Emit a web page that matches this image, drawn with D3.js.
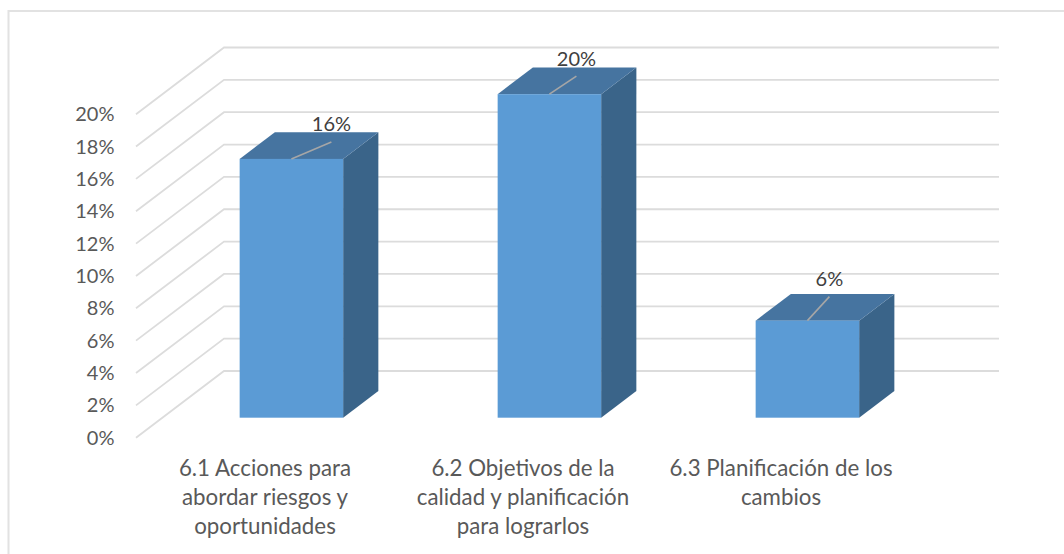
<!DOCTYPE html>
<html><head><meta charset="utf-8">
<script src="https://cdn.jsdelivr.net/npm/d3@7/dist/d3.min.js"></script>
<style>html,body{margin:0;background:#fff}svg{display:block}text{font-family:Lato,"Open Sans",sans-serif}</style>
</head><body><svg id="c" width="1064" height="554"></svg>
<script>
const categories=[["6.1 Acciones para","abordar riesgos y","oportunidades"],["6.2 Objetivos de la","calidad y planificación","para lograrlos"],["6.3 Planificación de los","cambios"]];
const values=[16,20,6];
const valueLabels=["16%","20%","6%"];
const ticks=[0,2,4,6,8,10,12,14,16,18,20];

const svg=d3.select("#c");
svg.append("path").attr("d","M8.5,554V11H1064").attr("fill","none").attr("stroke","#e2e2e2").attr("stroke-width",2);
const W=258*3, wallX=136, frontY=437.7, dx=88, dy=66.7;
const x=d3.scaleBand().domain(d3.range(3)).range([wallX,wallX+W]);
const y=d3.scaleLinear().domain([0,20]).range([0,-323.5]);
const barW=103.5,t0=.3,t1=.7;
// leader-line offset from the middle of each bar's top edge
const nudge=[[40,-17],[27,-18],[22,-24]];
const g=svg.append("g");
ticks.forEach(t=>{
  const yy=frontY+y(t);
  g.append("path").attr("d",`M${wallX},${yy}L${wallX+dx},${yy-dy}L${wallX+W+dx+1},${yy-dy}`).attr("fill","none").attr("stroke","#dcdcdc").attr("stroke-width",1.8);
  g.append("text").attr("x",114.5).attr("y",yy+7).attr("text-anchor","end").attr("font-size",20).attr("fill","#595959").text(t+"%");
});
values.forEach((v,i)=>{
  const xl=x(i)+(x.bandwidth()-barW)/2+dx*t0, yb=frontY-dy*t0, h=y(v);
  const ox=dx*(t1-t0), oy=-dy*(t1-t0);
  g.append("path").attr("d",`M${xl+barW},${yb}v${h}l${ox},${oy}v${-h}z`).attr("fill","#3a6489");
  g.append("path").attr("d",`M${xl},${yb+h}h${barW}l${ox},${oy}h${-barW}z`).attr("fill","#4674a0");
  g.append("rect").attr("x",xl).attr("y",yb+h).attr("width",barW).attr("height",-h).attr("fill","#5b9bd5");
  const mx=xl+barW/2, my=yb+h, ex=mx+nudge[i][0], ey=my+nudge[i][1];
  g.append("line").attr("x1",mx).attr("y1",my).attr("x2",ex).attr("y2",ey).attr("stroke","#a6a6a6").attr("stroke-width",1.6);
  g.append("text").attr("x",ex).attr("y",ey-10.5).attr("text-anchor","middle").attr("font-size",20).attr("fill","#404040").text(valueLabels[i]);
  categories[i].forEach((l,j)=>g.append("text").attr("x",x(i)+x.bandwidth()/2).attr("y",476+j*29).attr("text-anchor","middle").attr("font-size",22.3).attr("fill","#595959").text(l));
});
</script></body></html>
